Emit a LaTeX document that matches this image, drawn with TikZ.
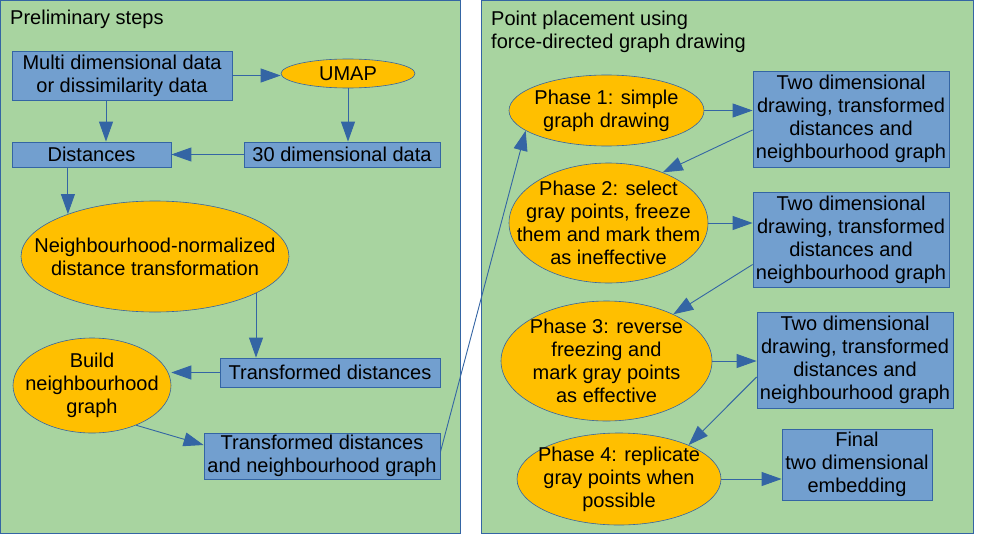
\documentclass[tikz,border=0pt]{standalone}
\usepackage{fontspec}
\setmainfont{Liberation Sans}
\usetikzlibrary{shapes.geometric,arrows.meta}
\definecolor{panelgreen}{HTML}{A8D4A0}
\definecolor{boxblue}{HTML}{729FCF}
\definecolor{lineblue}{HTML}{3465A4}
\definecolor{gold}{HTML}{FFBF00}
\begin{document}
\begin{tikzpicture}[x=1pt,y=-1pt,
    every node/.style={font=\fontsize{20}{23}\selectfont, align=center, inner sep=1pt},
    box/.style={draw=lineblue, fill=boxblue, line width=0.8pt},
    oval/.style={ellipse, draw=lineblue, fill=gold, line width=0.6pt, inner xsep=-60pt, inner ysep=-30pt},
    panel/.style={draw=lineblue, fill=panelgreen, line width=0.9pt},
    arr/.style={draw=lineblue, line width=0.9pt, -{Triangle[length=20pt,width=14pt]}}]
                \fill[white] (0,0) rectangle (984,543);
                \useasboundingbox (0,0) rectangle (984,543);
                \draw[panel] (0.5,0.5) rectangle (460,533);
                \draw[panel] (481,0.5) rectangle (973,533);
                \node[anchor=north west, inner sep=0pt, align=left] (pretitle) at (10,9.5) {Preliminary steps};
                \node[anchor=north west, inner sep=0pt, align=left] (forcetitle) at (491,10.5) {Point placement using\\force-directed graph drawing};
                \node[box, minimum width=220pt, minimum height=49pt] (multi) at (122,75.5) {Multi dimensional data\\or dissimilarity data};
                \node[oval, minimum width=134pt, minimum height=29pt] (umap) at (348,73.5) {UMAP};
                \node[box, minimum width=159pt, minimum height=25pt] (dist) at (91.5,154.5) {Distances};
                \node[box, minimum width=196pt, minimum height=25pt] (thirty) at (342,154.5) {30 dimensional data};
                \node[oval, minimum width=268pt, minimum height=111pt] (ndt) at (155,256.5) {Neighbourhood-normalized\\distance transformation};
                \node[box, minimum width=220pt, minimum height=29pt] (transf) at (330,372.5) {Transformed distances};
                \node[oval, minimum width=158pt, minimum height=95pt] (build) at (92,385.5) {Build\\neighbourhood\\graph};
                \node[box, minimum width=236pt, minimum height=46pt] (tdng) at (322,456) {Transformed distances\\and neighbourhood graph};
                \node[oval, minimum width=195pt, minimum height=71pt] (ph1) at (606.5,110.5) {Phase 1: simple\\graph drawing};
                \node[box, minimum width=196pt, minimum height=96pt] (out1) at (851,119) {Two dimensional\\drawing, transformed\\distances and\\neighbourhood graph};
                \node[oval, minimum width=199pt, minimum height=120pt] (ph2) at (608.5,223) {Phase 2: select\\gray points, freeze\\them and mark them\\as ineffective};
                \node[box, minimum width=196pt, minimum height=95pt] (out2) at (851,239.5) {Two dimensional\\drawing, transformed\\distances and\\neighbourhood graph};
                \node[oval, minimum width=211pt, minimum height=120pt] (ph3) at (606.5,361) {Phase 3: reverse\\freezing and\\mark gray points\\as effective};
                \node[box, minimum width=196pt, minimum height=96pt] (out3) at (855,360) {Two dimensional\\drawing, transformed\\distances and\\neighbourhood graph};
                \node[oval, minimum width=204pt, minimum height=92pt] (ph4) at (619,479) {Phase 4: replicate\\gray points when\\possible};
                \node[box, minimum width=150pt, minimum height=71pt] (final) at (857,464.5) {Final\\two dimensional\\embedding};
                \draw[arr] (multi.east) -- (multi.east -| umap.west);
                \draw[arr] ([xshift=-16pt]multi.south) -- ([xshift=-16pt]multi.south |- dist.north);
                \draw[arr] (umap.south) -- (umap.south |- thirty.north);
                \draw[arr] (thirty) -- (dist);
                \draw[arr] (ndt.154 |- dist.south) -- (ndt.154);
                \draw[arr] (ndt.-20) -- (ndt.-20 |- transf.north);
                \draw[arr] (transf.west) -- (transf.west -| build.east);
                \draw[arr] (build.-42) -- ([yshift=11pt]tdng.west);
                \draw[arr] ([yshift=4pt]tdng.east) -- (ph1.194);
                \draw[arr] (ph1.east) -- (ph1.east -| out1.west);
                \draw[arr] ([yshift=-11pt]out1.west) -- (ph2.43);
                \draw[arr] (ph2.east) -- (ph2.east -| out2.west);
                \draw[arr] ([yshift=-25pt]out2.west) -- (ph3.35);
                \draw[arr] (ph3.east) -- (ph3.east -| out3.west);
                \draw[arr] ([yshift=-17pt]out3.west) -- (ph4.26);
                \draw[arr] (ph4.east) -- (ph4.east -| final.west);
            \end{tikzpicture}
\end{document}
